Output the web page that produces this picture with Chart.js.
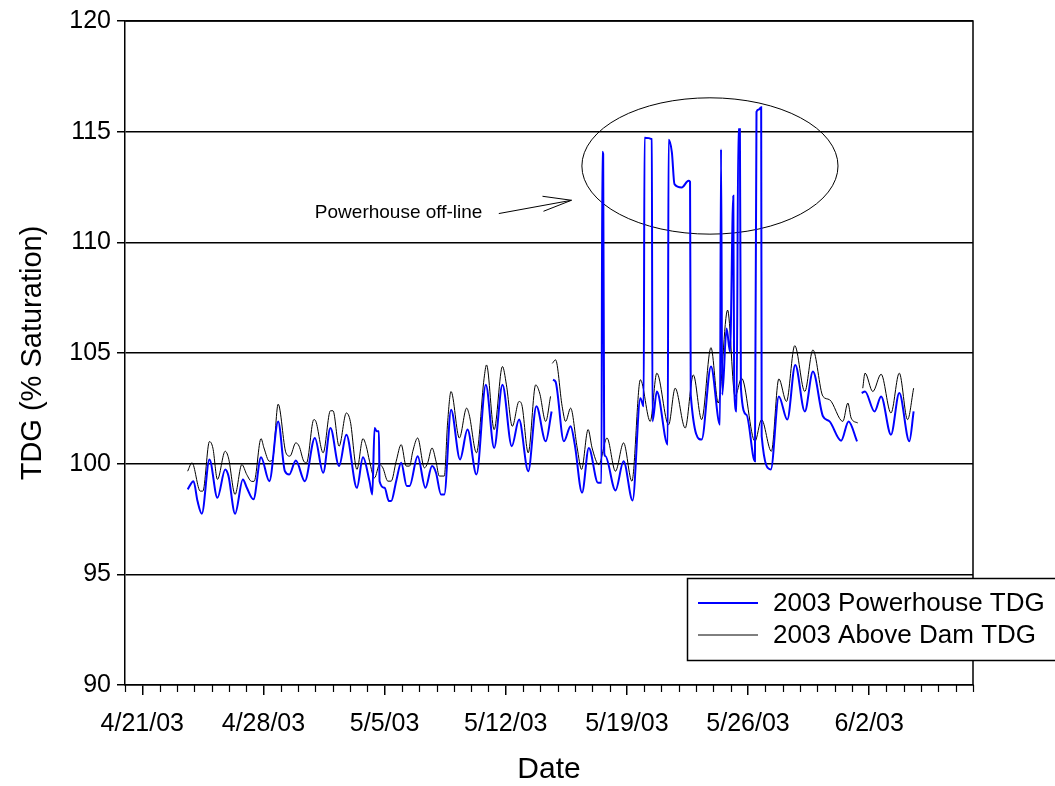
<!DOCTYPE html>
<html>
<head>
<meta charset="utf-8">
<title>TDG 2003</title>
<script src="https://cdn.jsdelivr.net/npm/chart.js@4.4.1/dist/chart.umd.min.js"></script>
<style>
    html, body { margin: 0; padding: 0; background: #fff; }
    #wrap { width: 1055px; height: 786px; }
</style>
</head>
<body>
<div id="wrap"><canvas id="tdgChart" width="1055" height="786"></canvas></div>
<script>
const FONT = '"Liberation Sans", Arial, sans-serif';

// x values are days after 4/20/03 (4/21/03 = 1)
const tickDays = [1, 8, 15, 22, 29, 36, 43];
const tickLabels = ['4/21/03', '4/28/03', '5/5/03', '5/12/03', '5/19/03', '5/26/03', '6/2/03'];

// 2003 Powerhouse TDG (% saturation)
const phDay = [
    3.62, 3.96, 4.19, 4.44, 4.88, 5.34, 5.79, 5.98, 6.36, 6.81,
    7.04, 7.42, 7.86, 8.34, 8.85, 9.24, 9.49, 9.87, 10.39, 10.97,
    11.45, 11.87, 12.37, 12.79, 13.40, 13.75, 14.13, 14.29, 14.42, 14.55,
    14.67, 14.71, 15.00, 15.25, 15.38, 15.67, 15.96, 16.28, 16.44, 16.91,
    17.36, 17.74, 17.97, 18.26, 18.45, 18.84, 19.36, 19.79, 20.31, 20.85,
    21.33, 21.81, 22.35, 22.77, 23.30, 23.77, 24.31, 24.65, 24.69, 24.73,
    24.88, 25.36, 25.75, 25.99, 26.41, 26.80, 27.33, 27.53, 27.58, 27.63,
    27.69, 27.76, 28.34, 28.81, 29.33, 29.78, 29.97, 30.02, 30.44, 30.48,
    30.73, 31.36, 31.41, 31.60, 31.75, 32.17, 32.56, 32.65, 32.69, 33.32,
    33.86, 34.38, 34.44, 34.51, 34.76, 34.96, 35.15, 35.20, 35.34, 35.44,
    35.53, 35.59, 35.91, 36.40, 36.49, 36.62, 36.76, 36.79, 37.32, 37.78,
    38.27, 38.73, 39.28, 39.75, 40.33, 40.71, 41.38, 41.81, 42.30, 42.45,
    42.57, 42.76, 43.31, 43.69, 44.26, 44.74, 45.32, 45.57
];
const phTdg = [
    98.84, 99.21, 98.31, 97.74, 100.19, 98.46, 99.74, 99.44, 97.74, 99.29,
    98.91, 98.39, 100.29, 99.21, 101.91, 99.66, 99.51, 100.14, 99.21, 101.16,
    99.59, 101.61, 99.89, 101.31, 98.91, 100.29, 99.2, 98.61, 101.61, 101.46,
    101.46, 99.21, 98.91, 98.31, 98.31, 99.21, 100.04, 98.99, 98.99, 100.34,
    98.91, 99.89, 99.59, 98.61, 98.61, 102.44, 100.19, 101.54, 99.51, 103.56,
    100.71, 103.56, 100.79, 101.99, 99.66, 102.59, 101.01, 102.36, null, 103.79,
    103.7, 101.01, 101.69, 100.86, 98.69, 100.71, 99.14, 99.14, 114.09, 114.0,
    100.5, 100.34, 98.79, 100.11, 98.34, 102.96, 102.59, 114.73, 114.66, 101.91,
    103.26, 100.86, 114.63, 114.06, 112.63, 112.48, 112.78, 112.74, 103.11, 101.09,
    104.39, 101.76, 114.21, 103.11, 106.11, 105.06, 112.11, 103.56, 102.36, 115.11,
    115.11, 103.41, 102.21, 100.11, 115.9, 116.0, 116.1, 101.24, 99.74, 103.04,
    101.99, 104.46, 102.36, 104.16, 102.14, 101.91, 101.04, 101.91, 101.01, null,
    103.19, 103.26, 102.36, 103.04, 101.31, 103.19, 101.01, 102.36
];

// 2003 Above Dam TDG (% saturation)
const abDay = [
    3.62, 3.87, 4.35, 4.50, 4.88, 5.08, 5.34, 5.79, 5.98, 6.36,
    6.75, 7.04, 7.32, 7.46, 7.86, 8.03, 8.34, 8.53, 8.85, 9.30,
    9.53, 9.87, 10.06, 10.33, 10.49, 10.91, 11.03, 11.45, 11.87, 12.02,
    12.37, 12.79, 13.02, 13.40, 13.75, 13.94, 14.13, 14.42, 14.71, 14.90,
    15.19, 15.38, 15.67, 15.96, 16.25, 16.44, 16.63, 16.91, 17.30, 17.49,
    17.74, 17.97, 18.16, 18.45, 18.64, 18.84, 19.32, 19.74, 19.89, 20.31,
    20.75, 20.89, 21.33, 21.81, 22.04, 22.38, 22.77, 22.93, 23.30, 23.73,
    23.96, 24.31, 24.59, 24.64,
    24.69, 24.88, 25.26, 25.46, 25.75, 26.13, 26.38, 26.76, 26.99, 27.38,
    27.85, 28.34, 28.81, 29.29, 29.78, 30.35, 30.73, 31.41, 31.79, 32.37,
    32.84, 33.32, 33.86, 34.28, 34.82, 35.25, 35.63, 36.40, 36.78, 37.35,
    37.78, 38.22, 38.70, 39.28, 39.75, 40.33, 40.71, 41.48, 41.77, 41.96,
    42.34, 42.50, 42.63, 42.76, 43.21, 43.69, 44.26, 44.74, 45.22, 45.57
];
const abTdg = [
    99.66, 100.04, 98.76, 98.76, 101.0, 100.7, 99.29, 100.56, 100.26, 98.61,
    99.96, 99.5, 99.2, 99.2, 101.13, 100.71, 100.11, 100.19, 102.69, 100.49,
    100.34, 100.94, 100.79, 100.11, 100.04, 101.99, 101.91, 100.49, 102.39, 102.39,
    100.79, 102.29, 101.91, 99.74, 101.13, 100.79, 100.11, 99.36, 99.96, 99.81,
    99.21, 99.21, 100.11, 100.86, 99.89, 99.89, 100.56, 101.16, 99.81, 100.04,
    100.71, 100.11, 99.44, 99.44, 101.84, 103.26, 101.16, 102.51, 102.21, 100.49,
    103.86, 104.46, 101.54, 104.39, 103.56, 101.69, 102.81, 102.66, 100.49, 103.56,
    103.19, 101.91, 103.04, null,
    104.53, 104.69, 102.59, 101.91, 102.51, 100.71, 99.74, 101.54, 100.71, 99.96,
    101.16, 99.66, 100.94, 99.21, 103.79, 101.91, 104.09, 101.76, 103.41, 101.61,
    104.01, 101.99, 105.24, 102.74, 106.94, 103.04, 103.86, 101.01, 101.99, 100.56,
    103.83, 102.81, 105.33, 103.26, 105.14, 103.04, 102.89, 101.91, 102.74, 102.06,
    101.84, null, 103.41, 104.09, 103.26, 104.04, 102.29, 104.09, 101.99, 103.41
];

function toPoints(days, vals) {
    return days.map((d, i) => ({ x: d, y: vals[i] }));
}

// frame, daily minor ticks, ellipse note and legend box
const extras = {
    id: 'extras',
    beforeDatasetsDraw(chart) {
        const ctx = chart.ctx;
        const xs = chart.scales.x;
        const ys = chart.scales.y;
        // ellipse round the off-line spikes
        const cx = xs.getPixelForValue(33.8);
        const cy = ys.getPixelForValue(113.45);
        const rx = xs.getPixelForValue(33.8 + 7.4) - cx;
        const ry = cy - ys.getPixelForValue(113.45 + 3.08);
        ctx.save();
        ctx.strokeStyle = '#000';
        ctx.lineWidth = 1;
        ctx.beginPath();
        ctx.ellipse(cx, cy, rx, ry, 0, 0, Math.PI * 2);
        ctx.stroke();
        ctx.restore();
    },
    afterDraw(chart) {
        const ctx = chart.ctx;
        const a = chart.chartArea;
        const xs = chart.scales.x;
        const ys = chart.scales.y;
        ctx.save();
        ctx.strokeStyle = '#000';
        ctx.lineWidth = 1.5;
        ctx.beginPath();
        ctx.moveTo(a.left, a.top);
        ctx.lineTo(a.right, a.top);
        ctx.lineTo(a.right, a.bottom);
        ctx.stroke();

        // daily minor ticks
        ctx.lineWidth = 1.2;
        for (let d = 0; d <= 49; d++) {
            if (tickDays.includes(d)) continue;
            const px = Math.round(xs.getPixelForValue(d)) + 0.5;
            ctx.beginPath();
            ctx.moveTo(px, a.bottom);
            ctx.lineTo(px, a.bottom + 7);
            ctx.stroke();
        }

        // annotation text + arrow
        ctx.fillStyle = '#000';
        ctx.font = '19px ' + FONT;
        ctx.textBaseline = 'middle';
        ctx.textAlign = 'left';
        ctx.fillText('Powerhouse off-line', xs.getPixelForValue(10.97), ys.getPixelForValue(111.35));
        const x1 = xs.getPixelForValue(21.6), y1 = ys.getPixelForValue(111.3);
        const x2 = xs.getPixelForValue(25.8), y2 = ys.getPixelForValue(111.9);
        ctx.lineWidth = 1;
        ctx.beginPath();
        ctx.moveTo(x1, y1);
        ctx.lineTo(x2, y2);
        ctx.moveTo(x2 - 29, y2 - 4);
        ctx.lineTo(x2, y2);
        ctx.lineTo(x2 - 28, y2 + 11);
        ctx.stroke();

        // legend box
        ctx.fillStyle = '#fff';
        ctx.fillRect(687, 578, 380, 82);
        ctx.lineWidth = 1.5;
        ctx.strokeRect(687.5, 578.5, 380, 82);
        ctx.font = '26px ' + FONT;
        const rows = [603, 635];
        chart.data.datasets.forEach((ds, i) => {
            ctx.strokeStyle = ds.borderColor;
            ctx.lineWidth = ds.borderWidth;
            ctx.beginPath();
            ctx.moveTo(698, rows[i]);
            ctx.lineTo(758, rows[i]);
            ctx.stroke();
            ctx.fillStyle = '#000';
            ctx.fillText(ds.label, 773, rows[i] + 1);
        });
        ctx.restore();
    }
};

function initChart() {
    const ctx = document.getElementById('tdgChart').getContext('2d');
    new Chart(ctx, {
        type: 'line',
        data: {
            datasets: [{
                label: '2003 Powerhouse TDG',
                data: toPoints(phDay, phTdg),
                borderColor: '#0000ff',
                borderWidth: 2,
                pointRadius: 0,
                cubicInterpolationMode: 'monotone',
                spanGaps: false
            }, {
                label: '2003 Above Dam TDG',
                data: toPoints(abDay, abTdg),
                borderColor: '#000000',
                borderWidth: 1,
                pointRadius: 0,
                cubicInterpolationMode: 'monotone',
                spanGaps: false
            }]
        },
        options: {
            responsive: false,
            animation: false,
            devicePixelRatio: 1,
            layout: { padding: { top: 18, right: 82, left: 0, bottom: 0 } },
            plugins: {
                legend: { display: false },
                tooltip: { enabled: false }
            },
            scales: {
                x: {
                    type: 'linear',
                    min: 0,
                    max: 49,
                    afterBuildTicks: scale => {
                        scale.ticks = tickDays.map(v => ({ value: v }));
                    },
                    afterFit: scale => { scale.height = 101; },
                    ticks: {
                        autoSkip: false,
                        maxRotation: 0,
                        color: '#000',
                        padding: 14,
                        font: { family: FONT, size: 25 },
                        callback: (value, index) => tickLabels[index]
                    },
                    grid: { drawOnChartArea: false, tickLength: 10, color: '#000', lineWidth: 1.5 },
                    border: { color: '#000', width: 1.5 },
                    title: {
                        display: true,
                        text: 'Date',
                        color: '#000',
                        font: { family: FONT, size: 30, lineHeight: 1.1 },
                        padding: { top: 0, bottom: 0 }
                    }
                },
                y: {
                    min: 90,
                    max: 120,
                    afterFit: scale => { scale.width = 125; },
                    ticks: {
                        stepSize: 5,
                        color: '#000',
                        padding: 6,
                        font: { family: FONT, size: 25 }
                    },
                    grid: { color: '#000', lineWidth: 1.5, tickLength: 8 },
                    border: { color: '#000', width: 1.5 },
                    title: {
                        display: true,
                        text: 'TDG (% Saturation)',
                        color: '#000',
                        font: { family: FONT, size: 29 },
                        padding: { top: 16, bottom: 0 }
                    }
                }
            }
        },
        plugins: [extras]
    });
}

document.addEventListener('DOMContentLoaded', initChart);
</script>
</body>
</html>
